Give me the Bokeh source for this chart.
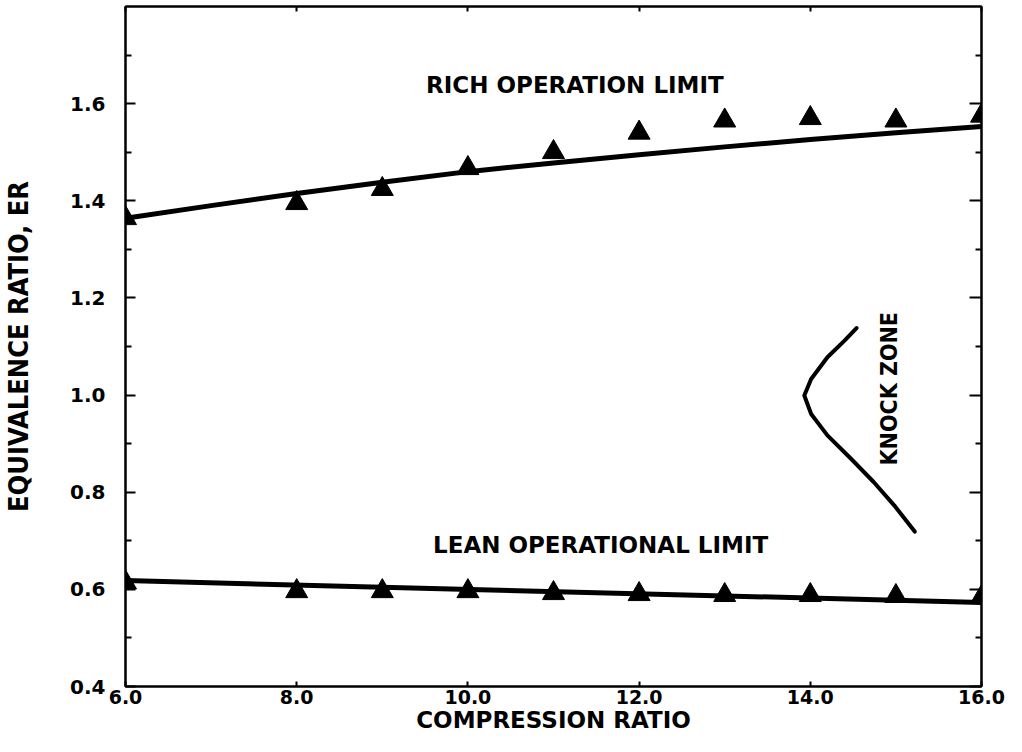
import numpy as np
from bokeh.plotting import figure
from bokeh.models import LinearAxis, FixedTicker, PrintfTickFormatter, Range1d, Label
from bokeh.embed import file_html
from bokeh.resources import INLINE

# ---- data ----
compression_ratio = [6.0, 8.0, 9.0, 10.0, 11.0, 12.0, 13.0, 14.0, 15.0, 16.0]
rich_limit = [1.364, 1.395, 1.424, 1.467, 1.500, 1.540, 1.565, 1.570, 1.565, 1.575]
lean_limit = [0.614, 0.596, 0.596, 0.596, 0.592, 0.590, 0.588, 0.588, 0.586, 0.584]

rich_fit_x = [6, 7, 8, 9, 10, 11, 12, 13, 14, 15, 16]
rich_fit_y = [1.364, 1.390, 1.415, 1.438, 1.460, 1.478, 1.495, 1.511, 1.526, 1.540, 1.553]
lean_fit_x = [6, 16]
lean_fit_y = [0.618, 0.573]

knock_x = [14.54, 14.40, 14.20, 14.01, 13.93, 14.01, 14.20, 14.47, 14.74, 14.98, 15.22]
knock_y = [1.138, 1.112, 1.078, 1.033, 0.999, 0.961, 0.917, 0.870, 0.821, 0.773, 0.719]

x_major = [6, 8, 10, 12, 14, 16]
y_major = [0.4, 0.6, 0.8, 1.0, 1.2, 1.4, 1.6]
y_minor = [0.5, 0.7, 0.9, 1.1, 1.3, 1.5, 1.7]

WIDE = "DejaVu Sans"
NARROW = "Liberation Sans Narrow, DejaVu Sans Condensed, Roboto Condensed, sans-serif"

p = figure(width=1006, height=736, output_backend="svg", toolbar_location=None,
           x_range=Range1d(6, 16), y_range=Range1d(0.4, 1.8),
           min_border_left=122, min_border_right=25, min_border_top=6, min_border_bottom=50)
p.grid.visible = False
p.outline_line_color = "black"
p.outline_line_width = 2
p.background_fill_color = "white"
p.border_fill_color = "white"

# bottom axis
xa = p.xaxis[0]
xa.ticker = FixedTicker(ticks=x_major, minor_ticks=[])
xa.formatter = PrintfTickFormatter(format="%.1f")
xa.major_tick_in = 5
xa.major_tick_out = 0
xa.minor_tick_in = 0
xa.minor_tick_out = 0
xa.axis_line_width = 2
xa.major_tick_line_width = 2
xa.major_label_text_font = WIDE
xa.major_label_text_font_style = "bold"
xa.major_label_text_font_size = "19px"
xa.major_label_text_color = "black"
xa.major_label_standoff = 3
xa.axis_label = "COMPRESSION RATIO"
xa.axis_label_text_font = WIDE
xa.axis_label_text_font_style = "bold"
xa.axis_label_text_font_size = "23px"
xa.axis_label_text_color = "black"
xa.axis_label_standoff = 0

# left axis
ya = p.yaxis[0]
ya.ticker = FixedTicker(ticks=y_major, minor_ticks=y_minor)
ya.formatter = PrintfTickFormatter(format="%.1f")
ya.major_tick_in = 10
ya.major_tick_out = 0
ya.minor_tick_in = 6
ya.minor_tick_out = 0
ya.axis_line_width = 2
ya.major_tick_line_width = 2
ya.minor_tick_line_width = 2
ya.major_label_text_font = WIDE
ya.major_label_text_font_style = "bold"
ya.major_label_text_font_size = "20px"
ya.major_label_text_color = "black"
ya.major_label_standoff = 20
ya.axis_label = "EQUIVALENCE RATIO, ER"
ya.axis_label_text_font = NARROW
ya.axis_label_text_font_style = "bold"
ya.axis_label_text_font_size = "27px"
ya.axis_label_text_color = "black"
ya.axis_label_standoff = 33

# right and top axes: ticks only
ra = LinearAxis(ticker=FixedTicker(ticks=y_major, minor_ticks=y_minor))
ra.major_tick_in = 12
ra.major_tick_out = 0
ra.minor_tick_in = 6
ra.minor_tick_out = 0
ra.axis_line_width = 2
ra.major_tick_line_width = 2
ra.minor_tick_line_width = 2
ra.major_label_text_font_size = "0px"
ra.major_label_standoff = 0
p.add_layout(ra, "right")

ta = LinearAxis(ticker=FixedTicker(ticks=x_major, minor_ticks=[]))
ta.major_tick_in = 5
ta.major_tick_out = 0
ta.minor_tick_in = 0
ta.minor_tick_out = 0
ta.axis_line_width = 2
ta.major_tick_line_width = 2
ta.major_label_text_font_size = "0px"
ta.major_label_standoff = 0
p.add_layout(ta, "above")

# fitted curves
p.line(rich_fit_x, rich_fit_y, line_color="black", line_width=5, line_join="round", line_cap="round")
p.line(lean_fit_x, lean_fit_y, line_color="black", line_width=5, line_cap="round")
p.line(knock_x, knock_y, line_color="black", line_width=4, line_join="round", line_cap="round")

# data markers
p.scatter(compression_ratio, rich_limit, marker="triangle", size=22,
          fill_color="black", line_color="black", line_width=1)
p.scatter(compression_ratio, lean_limit, marker="triangle", size=22,
          fill_color="black", line_color="black", line_width=1)

# annotations
p.add_layout(Label(x=11.25, y=1.639, text="RICH OPERATION LIMIT", text_align="center",
                   text_baseline="middle", text_font=WIDE, text_font_style="bold",
                   text_font_size="23px", text_color="black"))
p.add_layout(Label(x=11.55, y=0.691, text="LEAN OPERATIONAL LIMIT", text_align="center",
                   text_baseline="middle", text_font=WIDE, text_font_style="bold",
                   text_font_size="23px", text_color="black"))
p.add_layout(Label(x=14.92, y=1.013, text="KNOCK ZONE", angle=np.pi / 2, text_align="center",
                   text_baseline="middle", text_font=NARROW, text_font_style="bold",
                   text_font_size="23px", text_color="black"))

open("out.html", "w").write(file_html(p, INLINE))
